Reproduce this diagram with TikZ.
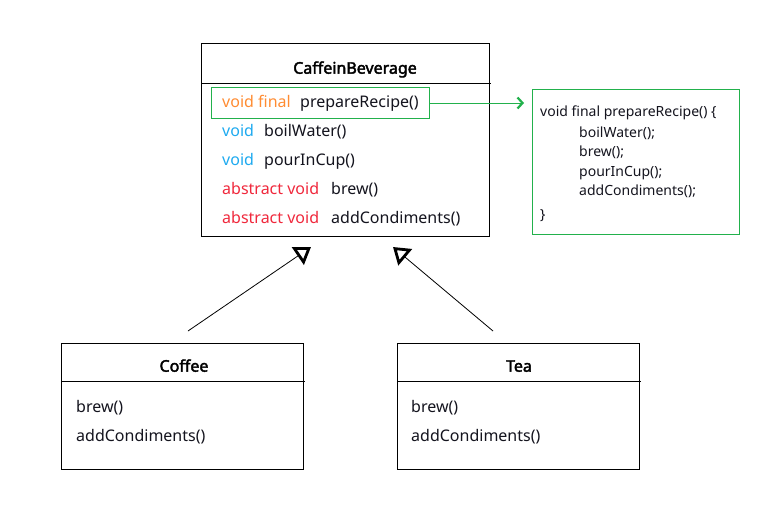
\documentclass[tikz,border=0pt]{standalone}
\usepackage{fontspec}
\setmainfont{Noto Sans}[AutoFakeBold=2.5]
\usetikzlibrary{arrows.meta}
\definecolor{ink}{RGB}{20,20,30}
\definecolor{kworange}{RGB}{255,140,50}
\definecolor{kwblue}{RGB}{30,170,240}
\definecolor{kwred}{RGB}{240,40,60}
\definecolor{grn}{RGB}{34,177,76}
\tikzset{
  classbox/.style={draw=black, line width=1pt, anchor=north west, inner sep=0pt},
  title/.style={font=\fontsize{16}{18}\selectfont\bfseries, text=black, anchor=mid},
  member/.style={font=\fontsize{16}{18}\selectfont, text=ink, anchor=mid west, inner sep=0pt},
  code/.style={font=\fontsize{14}{16}\selectfont, text=ink, anchor=mid west, inner sep=0pt},
  sepline/.style={line width=1pt},
  inherit/.style={line width=0.8pt, -{Triangle[open, length=16pt, width=21pt, line width=2.8pt]}},
}
\begin{document}
\begin{tikzpicture}[x=1pt, y=-1pt]
\useasboundingbox[fill=white] (0,0) rectangle (784,514);

% CaffeinBeverage
\node[classbox, minimum width=288pt, minimum height=193pt] (cb) at (201,43) {};
\draw[sepline] (201,83) -- (491,83);
\node[title] (cbt) at (355,71) {CaffeinBeverage};
\node[draw=grn, line width=1pt, anchor=north west, inner sep=0pt, minimum width=218pt, minimum height=31pt] (prep) at (211,87) {};
\node[member, text=kworange] (k1) at (222,105) {void final};
\node[member] (m1) at (300,105) {prepareRecipe()};
\node[member, text=kwblue] (k2) at (222,134) {void};
\node[member] (m2) at (264,134) {boilWater()};
\node[member, text=kwblue] (k3) at (222,163) {void};
\node[member] (m3) at (264,163) {pourInCup()};
\node[member, text=kwred] (k4) at (222,192) {abstract void};
\node[member] (m4) at (331,192) {brew()};
\node[member, text=kwred] (k5) at (222,221) {abstract void};
\node[member] (m5) at (331,221) {addCondiments()};

% code box
\node[draw=grn, line width=1pt, anchor=north west, inner sep=0pt, minimum width=207pt, minimum height=145pt] (codebox) at (532,89) {};
\node[code] (c0) at (540,114) {void final prepareRecipe() \{};
\node[code] (c1) at (579,135) {boilWater();};
\node[code] (c2) at (579,154) {brew();};
\node[code] (c3) at (579,174) {pourInCup();};
\node[code] (c4) at (579,193) {addCondiments();};
\node[code] (c5) at (540,217) {\}};

\draw[grn, line width=1pt, -{Straight Barb[length=5pt, width=11pt, line width=2.2pt]}, shorten >=8pt]
  (prep.east) -- (prep.east -| codebox.west);

% Coffee
\node[classbox, minimum width=242pt, minimum height=126pt] (coffee) at (61,343) {};
\draw[sepline] (61,381) -- (305,381);
\node[title] (cot) at (184,369) {Coffee};
\node[member] (co1) at (76,410) {brew()};
\node[member] (co2) at (76,439) {addCondiments()};

% Tea
\node[classbox, minimum width=242pt, minimum height=126pt] (tea) at (397,343) {};
\draw[sepline] (397,381) -- (641,381);
\node[title] (tt) at (519,369) {Tea};
\node[member] (t1) at (411,410) {brew()};
\node[member] (t2) at (411,439) {addCondiments()};

% inheritance
\coordinate (cofftop) at (188,331);
\coordinate (tip1) at (311,247);
\coordinate (teatop) at (493,331);
\coordinate (tip2) at (393,247);
\draw[inherit] (cofftop) -- (tip1);
\draw[inherit] (teatop) -- (tip2);
\end{tikzpicture}
\end{document}
